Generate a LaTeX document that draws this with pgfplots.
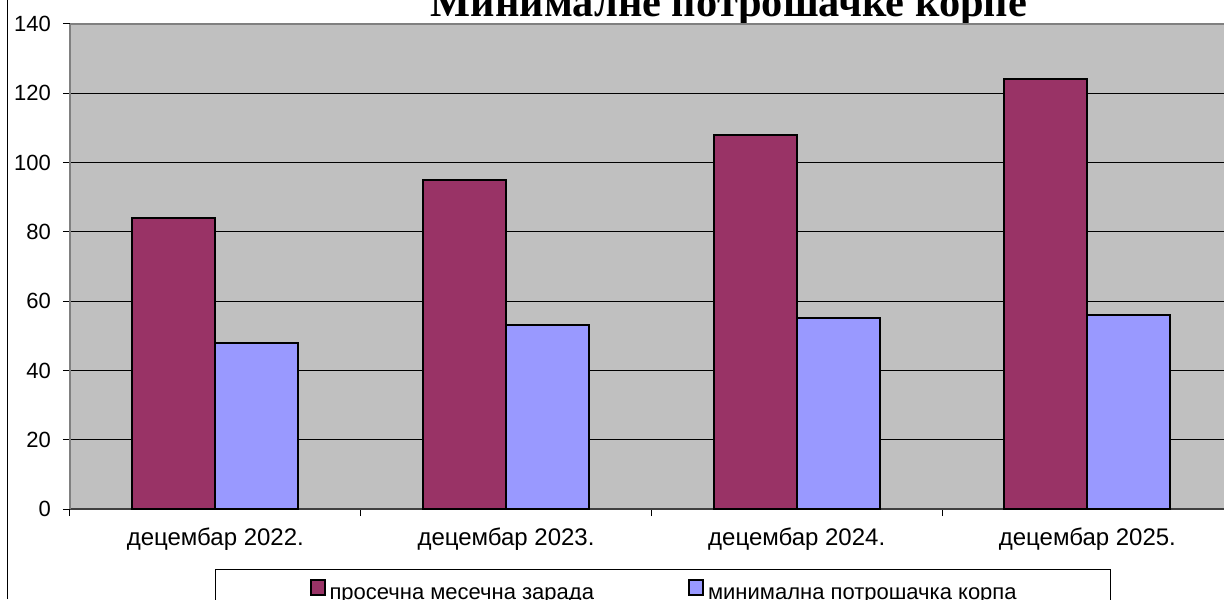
\documentclass[border=0pt]{standalone}
\usepackage{fontspec}
\setmainfont{Liberation Sans}
\newfontfamily\titlefont{Liberation Serif}
\usepackage{pgfplots}
\pgfplotsset{compat=1.18}
\definecolor{barred}{HTML}{993366}
\definecolor{barblue}{HTML}{9999FF}
\definecolor{plotgray}{HTML}{C0C0C0}
\definecolor{bordgray}{HTML}{808080}
\begin{document}
\begin{tikzpicture}
\useasboundingbox (0,0) rectangle (612pt,299.5pt);
\draw[black, line width=0.5pt] (3.5pt,0) -- (3.5pt,299.5pt);
\node[anchor=base, inner sep=0pt] at (364.5pt,291pt) {\titlefont\bfseries\fontsize{21.2}{25}\selectfont Минималне потрошачке корпе};
\begin{axis}[
  at={(35pt,45pt)}, anchor=south west,
  width=577pt, height=242.5pt, scale only axis,
  xmin=-0.5, xmax=3.47, ymin=0, ymax=140,
  ytick={0,20,...,140},
  xtick={-0.5,0.5,1.5,2.5,3.5}, xticklabels={},
  extra x ticks={0,1,2,3},
  extra x tick labels={децембар 2022.,децембар 2023.,децембар 2024.,децембар 2025.},
  extra x tick style={major tick length=0pt, grid=none},
  xticklabel style={font=\fontsize{12}{14}\selectfont, yshift=-6pt},
  yticklabel style={font=\fontsize{11}{13}\selectfont, xshift=-2.5pt},
  /pgf/number format/assume math mode=true,
  ymajorgrids, grid style={black, line width=0.5pt},
  axis background/.style={fill=plotgray},
  axis x line*=bottom, axis y line*=left,
  x axis line style={black!75, line width=1pt},
  y axis line style={bordgray, line width=1pt},
  tick align=outside, major tick length=3.5pt,
  tick style={black, line width=0.5pt},
  ybar=0pt, bar width=0.2855,
  legend image code/.code={\draw[#1, line width=1pt] (0.5pt,-0.5pt) rectangle (7.5pt,7pt);},
  legend columns=2,
  legend style={at={(0.12565,-0.1237)}, anchor=north west, draw=black, line width=0.5pt,
    fill=white, inner xsep=47pt, inner ysep=5pt,
    font=\fontsize{11}{13}\selectfont,
    nodes={inner sep=0pt, text height=8pt, text depth=3pt},
    /tikz/every odd column/.append style={column sep=2pt},
    /tikz/every even column/.append style={column sep=47pt}},
]
\addplot[fill=barred, draw=black, line width=1pt] coordinates {(0,84) (1,95) (2,108) (3,124)};
\addplot[fill=barblue, draw=black, line width=1pt] coordinates {(0,48) (1,53) (2,55) (3,56)};
\legend{просечна месечна зарада, минимална потрошачка корпа}
\draw[bordgray, line width=1pt] (rel axis cs:0,1) -- (rel axis cs:1,1);
\end{axis}
\end{tikzpicture}
\end{document}
